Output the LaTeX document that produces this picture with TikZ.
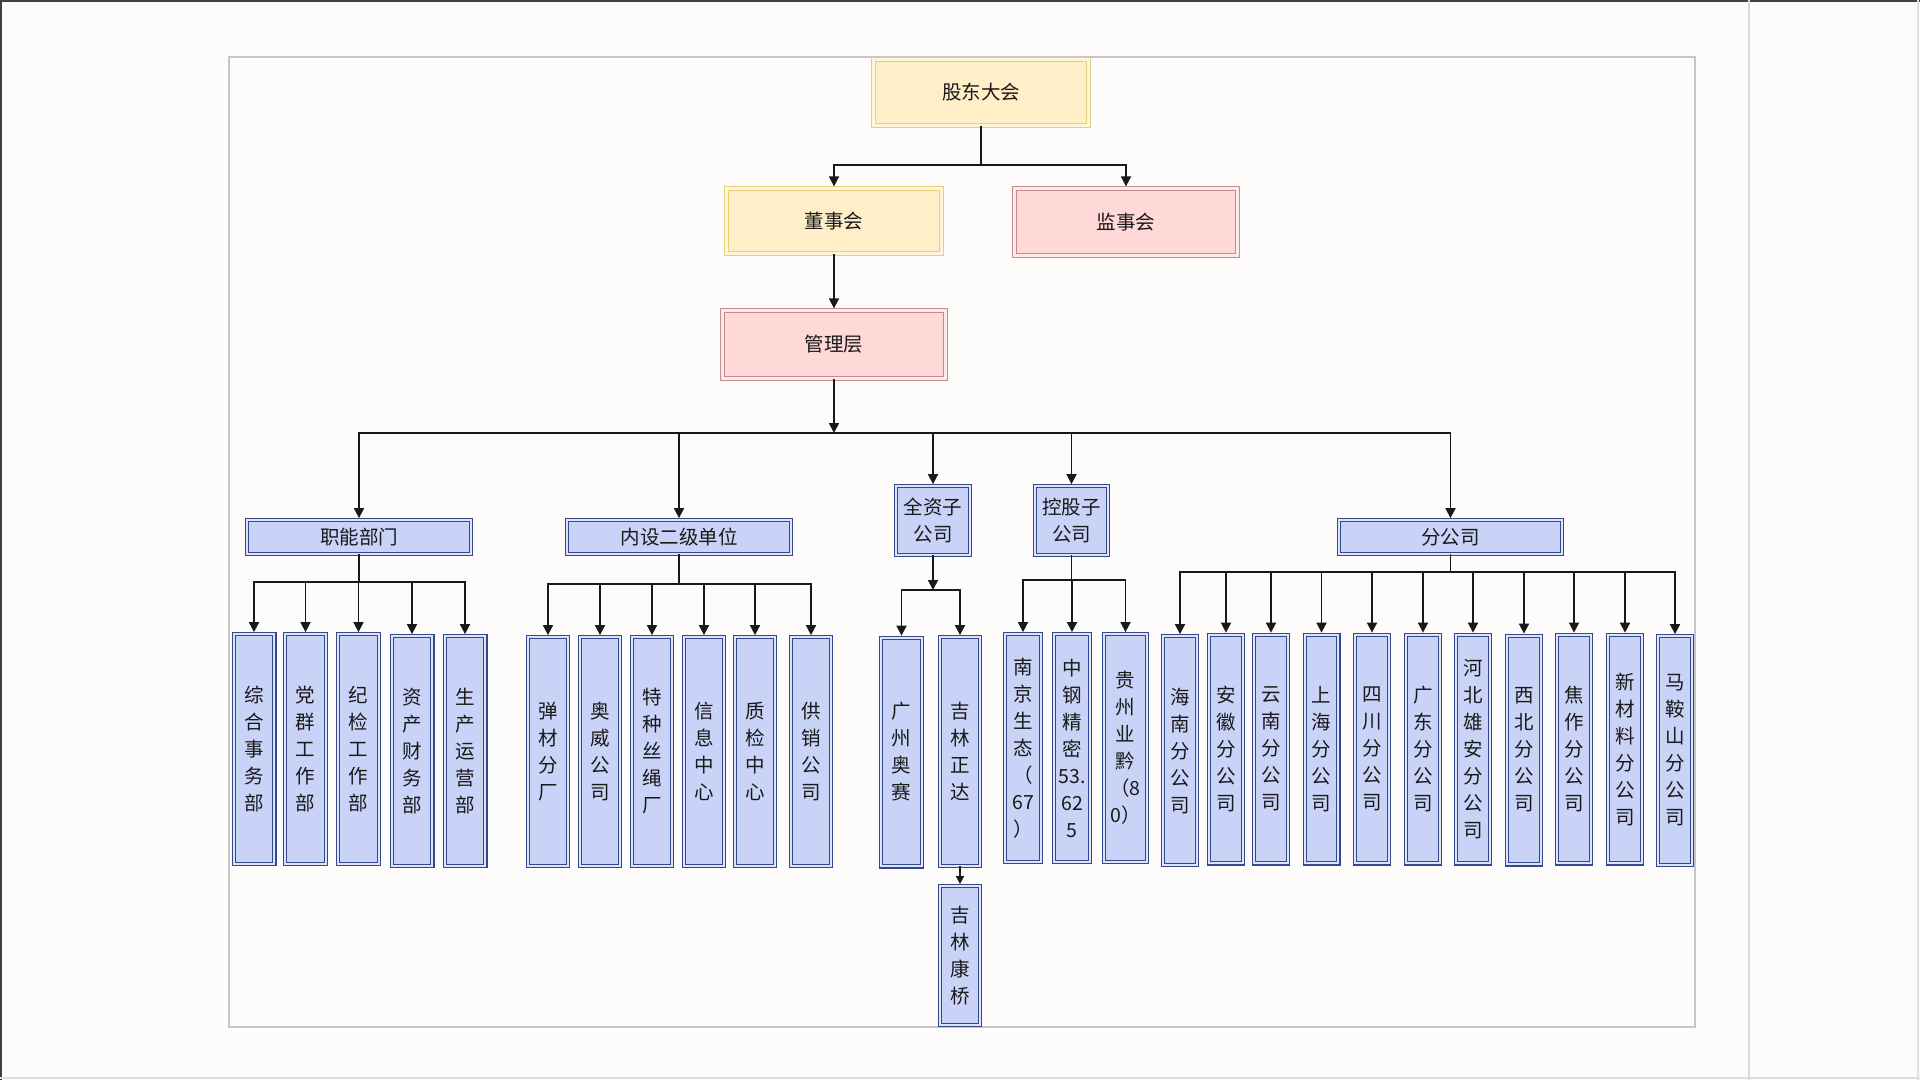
\documentclass[tikz,border=0pt]{standalone}
\usepackage{fontspec}
\newfontfamily\cjk{Noto Sans CJK SC}
\usetikzlibrary{arrows.meta}
\definecolor{yelfill}{HTML}{FFEFC9}
\definecolor{yeldraw}{HTML}{E4D07C}
\definecolor{yelgap}{HTML}{FFF6DA}
\definecolor{pinkfill}{HTML}{FFD8D8}
\definecolor{pinkdraw}{HTML}{C48C8E}
\definecolor{pinkgap}{HTML}{FFEAEA}
\definecolor{bluefill}{HTML}{C9D3F7}
\definecolor{bluedraw}{HTML}{34488E}
\definecolor{bluegap}{HTML}{DDE3FA}
\definecolor{pagebg}{HTML}{FEFCFB}
\definecolor{framegray}{HTML}{C8C4C6}
\begin{document}
\begin{tikzpicture}[x=1pt, y=-1pt,
    every node/.style={font=\cjk\fontsize{19.5}{27}\selectfont, text=black!90, inner sep=0pt, align=center},
    yelbox/.style={draw=yeldraw, double=yelgap, double distance=2.8pt, line width=0.9pt, fill=yelfill},
    pinkbox/.style={draw=pinkdraw, double=pinkgap, double distance=2.8pt, line width=0.9pt, fill=pinkfill},
    bluebox/.style={draw=bluedraw, double=bluegap, double distance=2pt, line width=1.2pt, fill=bluefill},
    head/.style={bluebox, minimum width=223.6pt, minimum height=33.6pt},
    leafa/.style={bluebox, minimum width=40.6pt, minimum height=229.6pt},
    leafb/.style={bluebox, minimum width=39.6pt, minimum height=228.6pt},
    leafc/.style={bluebox, minimum width=35.6pt, minimum height=227.6pt},
    leafd/.style={bluebox, minimum width=33.6pt, minimum height=228.6pt},
    link/.style={line width=1.7pt, black!90},
    arr/.style={link, -{Triangle[length=10pt, width=10pt]}, shorten >=1.5pt},
    smallarr/.style={line width=1.2pt, black!90, -{Triangle[length=8pt, width=8pt]}, shorten >=1.5pt}]
    \useasboundingbox (0,0) rectangle (1920,1080);
    \fill[pagebg] (0,0) rectangle (1920,1080);
    \draw[black!75, line width=2pt] (0,1) -- (1920,1);
    \draw[black!75, line width=2pt] (1,0) -- (1,1080);
    \draw[black!12, line width=1.2pt] (1918,0) -- (1918,1080);
    \draw[black!12, line width=1.2pt] (0,1078) -- (1920,1078);
    \draw[black!15, line width=1.2pt] (1749,0) -- (1749,1080);
    \draw[framegray, line width=1.2pt] (229,57) rectangle (1695,1027);

    \node[yelbox, minimum width=215.4pt, minimum height=66.4pt] (gd) at (981,92.5) {股东大会};
    \node[yelbox, minimum width=215.4pt, minimum height=65.4pt] (dsh) at (834,221) {董事会};
    \node[pinkbox, minimum width=223.4pt, minimum height=67.4pt] (jsh) at (1126,222) {监事会};
    \node[pinkbox, minimum width=223.4pt, minimum height=68.4pt] (gl) at (834,344.5) {管理层};

    \node[head] (zn) at (359,537) {职能部门};
    \node[head] (ns) at (679,537) {内设二级单位};
    \node[bluebox, minimum width=73.6pt, minimum height=68.6pt] (qz) at (933,520.5) {全资子\\公司};
    \node[bluebox, minimum width=72.6pt, minimum height=68.6pt] (kg) at (1071.5,520.5) {控股子\\公司};
    \node[head, minimum width=222.6pt] (fgs) at (1450.5,537) {分公司};

    \node[leafa] (z1) at (254,749) {综\\合\\事\\务\\部};
    \node[leafa] (z2) at (305.5,749) {党\\群\\工\\作\\部};
    \node[leafa] (z3) at (358.5,749) {纪\\检\\工\\作\\部};
    \node[leafa] (z4) at (412,751) {资\\产\\财\\务\\部};
    \node[leafa] (z5) at (465,751) {生\\产\\运\\营\\部};

    \node[leafb] (n1) at (548,751.5) {弹\\材\\分\\厂};
    \node[leafb] (n2) at (600,751.5) {奥\\威\\公\\司};
    \node[leafb] (n3) at (652,751.5) {特\\种\\丝\\绳\\厂};
    \node[leafb] (n4) at (704,751.5) {信\\息\\中\\心};
    \node[leafb] (n5) at (755,751.5) {质\\检\\中\\心};
    \node[leafb] (n6) at (811,751.5) {供\\销\\公\\司};

    \node[leafb, minimum width=40.6pt] (gzas) at (901.5,752) {广\\州\\奥\\赛};
    \node[leafb] (jlzd) at (960,751.5) {吉\\林\\正\\达};
    \node[leafb, minimum height=138.6pt] (jlkq) at (960,955.5) {吉\\林\\康\\桥};

    \node[leafc] (njst) at (1023,748) {南\\京\\生\\态\\（\\67\\）};
    \node[leafc] (zgjm) at (1072,748) {中\\钢\\精\\密\\53.\\62\\5};
    \node[leafc, minimum width=42.6pt] (gzyq) at (1125.5,748) {贵\\州\\业\\黔\\（8\\0）};

    \node[leafd] (f1) at (1180,750.5) {海\\南\\分\\公\\司};
    \node[leafd] (f2) at (1226,749) {安\\徽\\分\\公\\司};
    \node[leafd] (f3) at (1271,749) {云\\南\\分\\公\\司};
    \node[leafd] (f4) at (1321.5,749) {上\\海\\分\\公\\司};
    \node[leafd] (f5) at (1372,749) {四\\川\\分\\公\\司};
    \node[leafd] (f6) at (1423,749) {广\\东\\分\\公\\司};
    \node[leafd] (f7) at (1473,749) {河\\北\\雄\\安\\分\\公\\司};
    \node[leafd] (f8) at (1524,750) {西\\北\\分\\公\\司};
    \node[leafd] (f9) at (1574,749) {焦\\作\\分\\公\\司};
    \node[leafd] (f10) at (1625,749) {新\\材\\料\\分\\公\\司};
    \node[leafd] (f11) at (1675,750.5) {马\\鞍\\山\\分\\公\\司};

    \coordinate (gdb) at (981,165);
    \draw[link] (gd) -- (gdb);
    \draw[arr] (gdb) -| (dsh);
    \draw[arr] (gdb) -| (jsh);
    \draw[arr] (dsh) -- (gl);

    \coordinate (glb) at (834,433);
    \draw[arr, shorten >=0pt] (gl) -- (glb);
    \draw[arr] (glb) -| (zn);
    \draw[arr] (glb) -| (ns);
    \draw[arr] (glb) -| (qz);
    \draw[arr] (glb) -| (kg);
    \draw[arr] (glb) -| (fgs);

    \coordinate (znb) at (359,582);
    \draw[link] (zn) -- (znb);
    \draw[arr] (znb) -| (z1);
    \draw[arr] (znb) -| (z2);
    \draw[arr] (znb) -| (z3);
    \draw[arr] (znb) -| (z4);
    \draw[arr] (znb) -| (z5);

    \coordinate (nsb) at (679,584);
    \draw[link] (ns) -- (nsb);
    \draw[arr] (nsb) -| (n1);
    \draw[arr] (nsb) -| (n2);
    \draw[arr] (nsb) -| (n3);
    \draw[arr] (nsb) -| (n4);
    \draw[arr] (nsb) -| (n5);
    \draw[arr] (nsb) -| (n6);

    \coordinate (qzb) at (933,590);
    \draw[arr, shorten >=0pt] (qz) -- (qzb);
    \draw[arr] (qzb) -| (gzas);
    \draw[arr] (qzb) -| (jlzd);
    \draw[smallarr] (jlzd) -- (jlkq);

    \coordinate (kgb) at (1071.5,580);
    \draw[link] (kg) -- (kgb);
    \draw[arr] (kgb) -| (njst);
    \draw[arr] (kgb) -| (zgjm);
    \draw[arr] (kgb) -| (gzyq);

    \coordinate (fgb) at (1450.5,572);
    \draw[link] (fgs) -- (fgb);
    \draw[arr] (fgb) -| (f1);
    \draw[arr] (fgb) -| (f2);
    \draw[arr] (fgb) -| (f3);
    \draw[arr] (fgb) -| (f4);
    \draw[arr] (fgb) -| (f5);
    \draw[arr] (fgb) -| (f6);
    \draw[arr] (fgb) -| (f7);
    \draw[arr] (fgb) -| (f8);
    \draw[arr] (fgb) -| (f9);
    \draw[arr] (fgb) -| (f10);
    \draw[arr] (fgb) -| (f11);
\end{tikzpicture}
\end{document}
